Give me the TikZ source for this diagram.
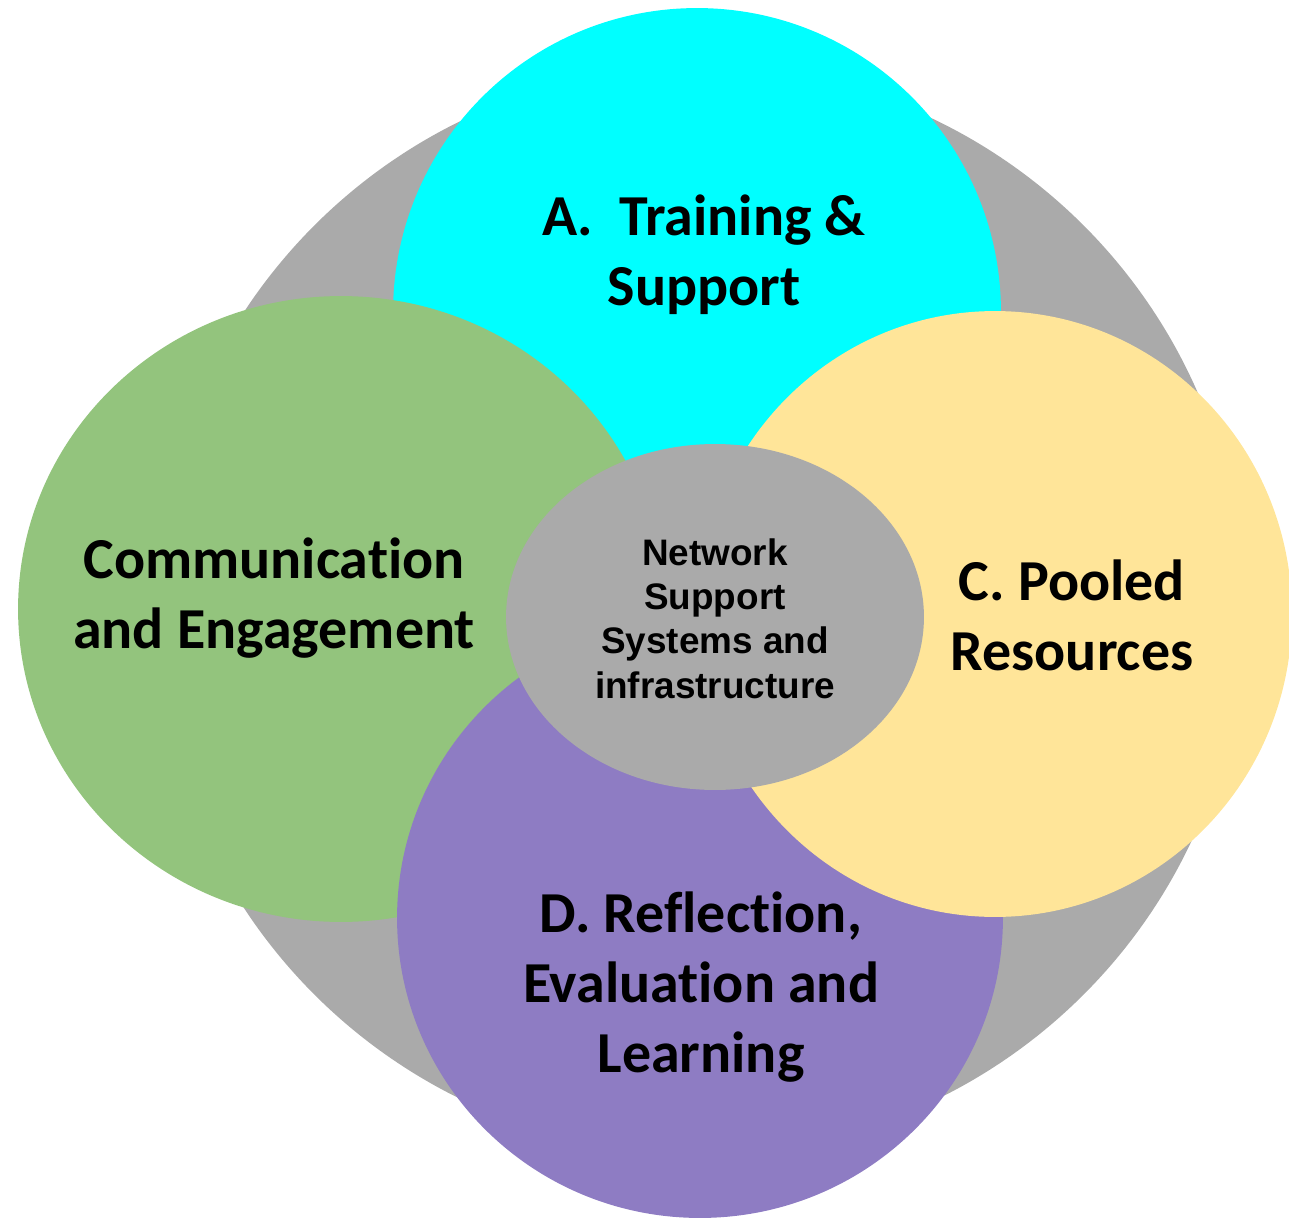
\documentclass[tikz,border=0pt]{standalone}
\usepackage{fontspec}
\setmainfont{Carlito}[Ligatures=NoCommon]
\newfontfamily\hubfont{Liberation Sans}
\usepackage{tikz}
\usetikzlibrary{shapes.geometric}
\definecolor{ringgray}{HTML}{AAAAAA}
\definecolor{traincyan}{HTML}{00FFFF}
\definecolor{commgreen}{HTML}{93C47D}
\definecolor{poolyellow}{HTML}{FFE599}
\definecolor{reflectpurple}{HTML}{8E7CC3}

\begin{document}
\begin{tikzpicture}[x=0.02cm,y=-0.02cm,
  blob/.style={ellipse,inner sep=0pt,fill=#1},
  bigtext/.style={align=center,anchor=base,inner sep=0pt,font=\bfseries\fontsize{33}{39.7}\selectfont},
  hubtext/.style={align=center,anchor=base,inner sep=0pt,font=\hubfont\bfseries\fontsize{21}{25.1}\selectfont}]
\useasboundingbox (0,0) rectangle (1289,1220);
% circles, back to front
\node[blob=ringgray,minimum width=21.76cm,minimum height=21.76cm] (ring) at (699,610) {};
\node[blob=traincyan,minimum width=12.16cm,minimum height=12.16cm] (train) at (697,312) {};
\node[blob=commgreen,minimum width=12.92cm,minimum height=12.52cm] (comm) at (341,609) {};
\node[blob=reflectpurple,minimum width=12.12cm,minimum height=12cm] (reflect) at (700,918) {};
\node[blob=poolyellow,minimum width=11.88cm,minimum height=12.12cm] (pool) at (995,614) {};
\node[blob=ringgray,minimum width=8.36cm,minimum height=6.92cm] (hub) at (715,617) {};
% labels (anchored at the baseline of the last line)
\node[bigtext] (trainlbl) at (704,305) {A.\ \ Training \&\\Support};
\node[bigtext] (commlbl) at (274,648) {Communication\\and Engagement};
\node[bigtext] (poollbl) at (1072,670) {C. Pooled\\Resources};
\node[bigtext] (reflectlbl) at (701,1072) {D. Reflection,\\Evaluation and\\Learning};
\node[hubtext] (hublbl) at (715,698) {Network\\Support\\Systems and\\infrastructure};
\end{tikzpicture}
\end{document}
